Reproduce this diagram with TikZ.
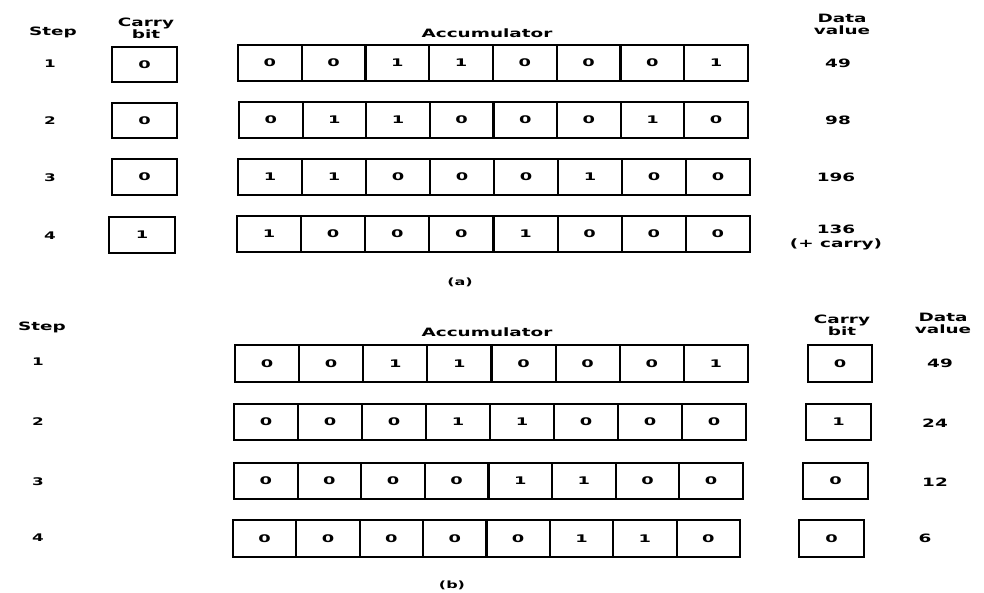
\documentclass[tikz,border=0pt]{standalone}
\usepackage{fontspec}
\usepackage{graphicx}
\setmainfont{DejaVu Sans}
\tikzset{
  cellbox/.style={draw=black, line width=2.1pt, inner sep=0pt, outer sep=0pt, font=\fontsize{10.5}{11}\selectfont\bfseries},
  lbl/.style={font=\fontsize{11.5}{12}\selectfont\bfseries, xscale=1.6, inner sep=0pt, align=center},
  stepnum/.style={font=\fontsize{10.5}{11}\selectfont\bfseries, xscale=1.6, inner sep=0pt},
}
\newcommand\myAccRow[6]{%
  \pgfmathsetmacro\myCW{(#3-#2)/8}%
  \pgfmathsetmacro\myCH{#5-#4}%
  \foreach \b [count=\i] in {#6} {
    \node[cellbox, minimum width=\myCW pt, minimum height=\myCH pt] (#1-\i)
      at ({#2+(\i-0.5)*\myCW},{(#4+#5)/2}) {\scalebox{1.7}[1]{\b}};
  }%
}
\newcommand\myCarry[6]{%
  \pgfmathsetmacro\myCW{#3-#2}%
  \pgfmathsetmacro\myCH{#5-#4}%
  \node[cellbox, minimum width=\myCW pt, minimum height=\myCH pt] (#1)
    at ({(#2+#3)/2},{(#4+#5)/2}) {\scalebox{1.7}[1]{#6}};%
}
\begin{document}
\begin{tikzpicture}[x=1pt,y=-1pt]
\useasboundingbox (0,0) rectangle (984,592);
% ---------- (a) ----------
\node[lbl] (stepA) at (53,32) {Step};
\node[lbl] (carryA) at (146,28) {Carry\\bit};
\node[lbl] (accA) at (487,33) {Accumulator};
\node[lbl] (dataA) at (842,24) {Data\\value};
\node[stepnum] (sA1) at (50,64) {1};
\node[stepnum] (sA2) at (50,121) {2};
\node[stepnum] (sA3) at (50,178) {3};
\node[stepnum] (sA4) at (50,236) {4};
\myCarry{cA1}{112}{177}{47}{82}{0}
\myCarry{cA2}{112}{177}{103}{138}{0}
\myCarry{cA3}{112}{177}{159}{195}{0}
\myCarry{cA4}{109}{175}{217}{253}{1}
\myAccRow{aA1}{238}{748}{45}{81}{0,0,1,1,0,0,0,1}
\myAccRow{aA2}{239}{748}{102}{138}{0,1,1,0,0,0,1,0}
\myAccRow{aA3}{238}{750}{159}{195}{1,1,0,0,0,1,0,0}
\myAccRow{aA4}{237}{750}{216}{252}{1,0,0,0,1,0,0,0}
\node[lbl] (vA1) at (838,63) {49};
\node[lbl] (vA2) at (838,120) {98};
\node[lbl] (vA3) at (836,177) {196};
\node[lbl, font=\fontsize{11.5}{14}\selectfont\bfseries] (vA4) at (836,237) {136\\(+ carry)};
\node[lbl, font=\fontsize{10}{11}\selectfont\bfseries] (capA) at (460,282) {(a)};
% ---------- (b) ----------
\node[lbl] (stepB) at (42,327) {Step};
\node[lbl] (accB) at (487,332) {Accumulator};
\node[lbl] (carryB) at (842,325) {Carry\\bit};
\node[lbl] (dataB) at (943,323) {Data\\value};
\node[stepnum] (sB1) at (38,362) {1};
\node[stepnum] (sB2) at (38,422) {2};
\node[stepnum] (sB3) at (38,482) {3};
\node[stepnum] (sB4) at (38,538) {4};
\myAccRow{aB1}{235}{748}{345}{382}{0,0,1,1,0,0,0,1}
\myAccRow{aB2}{234}{746}{404}{440}{0,0,0,1,1,0,0,0}
\myAccRow{aB3}{234}{743}{463}{499}{0,0,0,0,1,1,0,0}
\myAccRow{aB4}{233}{740}{520}{557}{0,0,0,0,0,1,1,0}
\myCarry{cB1}{808}{872}{345}{382}{0}
\myCarry{cB2}{806}{871}{404}{440}{1}
\myCarry{cB3}{803}{868}{463}{499}{0}
\myCarry{cB4}{799}{864}{520}{557}{0}
\node[lbl] (vB1) at (940,363) {49};
\node[lbl] (vB2) at (935,423) {24};
\node[lbl] (vB3) at (935,482) {12};
\node[lbl] (vB4) at (925,538) {6};
\node[lbl, font=\fontsize{10}{11}\selectfont\bfseries] (capB) at (452,585) {(b)};
\end{tikzpicture}
\end{document}
